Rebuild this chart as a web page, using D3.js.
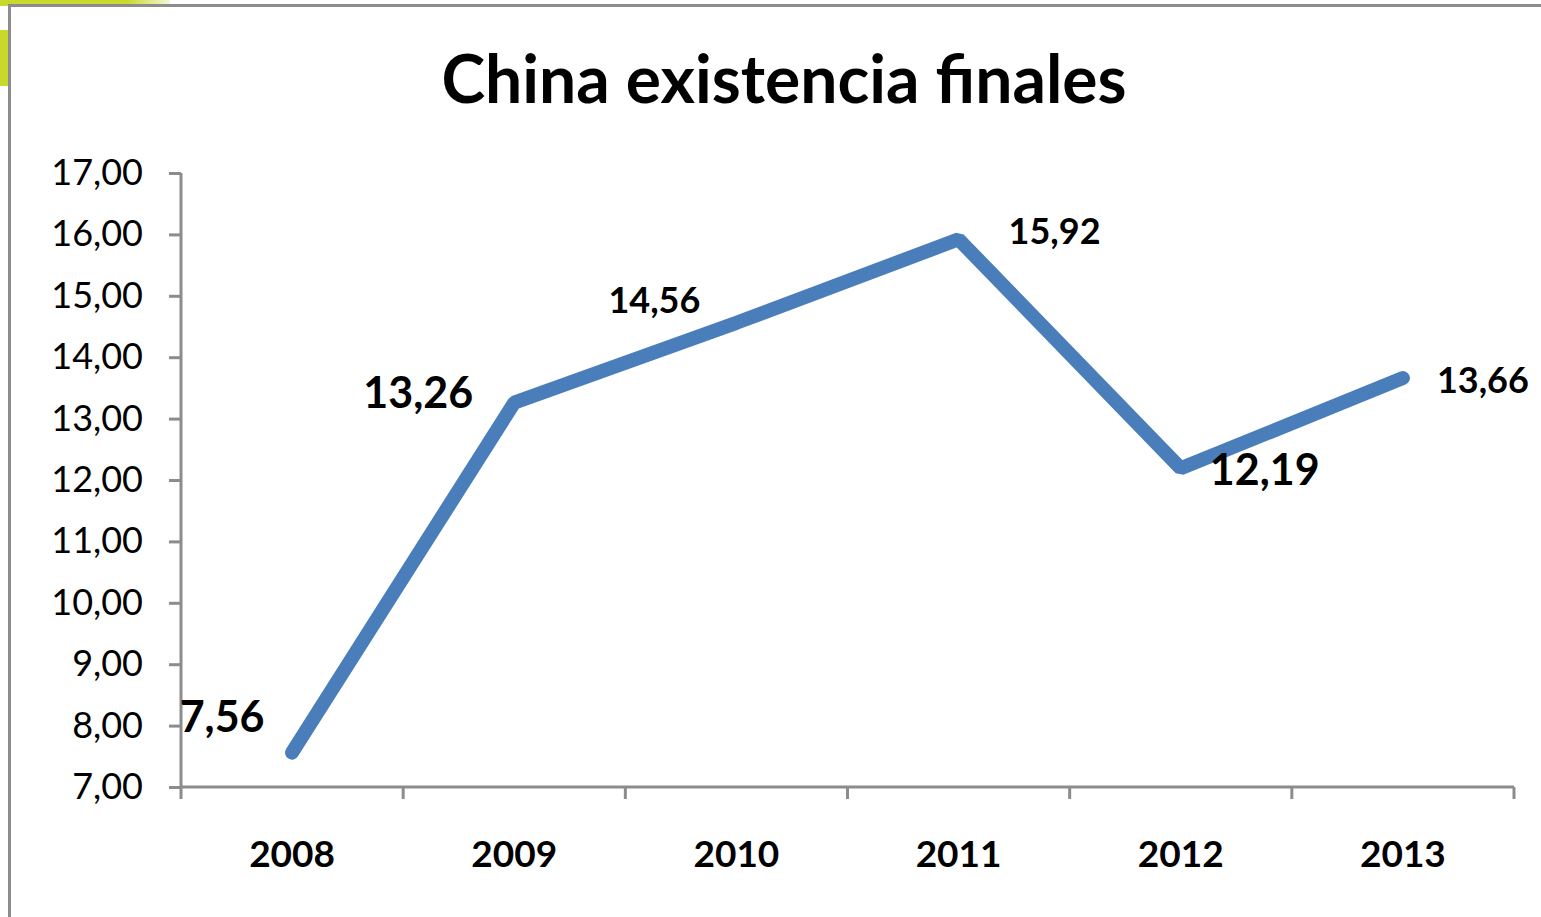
<!DOCTYPE html>
<html>
<head>
<meta charset="utf-8">
<script src="https://cdn.jsdelivr.net/npm/d3@7"></script>
<style>
  body { margin: 0; background: #fff; }
  svg { display: block; font-family: Lato, "Open Sans", sans-serif; }
</style>
</head>
<body>
<div id="chart"></div>
<script>
// chart data
var years = ["2008", "2009", "2010", "2011", "2012", "2013"];
var stocks = [7.56, 13.26, 14.56, 15.92, 12.19, 13.66];
var yTicks = [7, 8, 9, 10, 11, 12, 13, 14, 15, 16, 17];

// label placement (offset from the point) and size, per point
var labelDx = [-70, -96, -82, 96, 84, 80];
var labelDy = [-36, -10, -22, -8, 2, 2];
var labelSize = [43, 43, 36, 36, 43, 36];

var svgWidth = 1541;
var svgHeight = 917;

var margin = { top: 173, right: 27, bottom: 130, left: 181 };
var width = svgWidth - margin.left - margin.right;
var height = svgHeight - margin.top - margin.bottom;

var svg = d3.select("#chart")
  .append("svg")
  .attr("width", svgWidth)
  .attr("height", svgHeight);

// green decoration peeking out behind the frame
var grad = svg.append("defs").append("linearGradient").attr("id", "gfade");
grad.append("stop").attr("offset", "0").attr("stop-color", "#c9d92c");
grad.append("stop").attr("offset", "0.75").attr("stop-color", "#c9d92c");
grad.append("stop").attr("offset", "1").attr("stop-color", "#f4f7d8");
svg.append("rect").attr("x", 0).attr("y", 0).attr("width", 170).attr("height", 6).attr("fill", "url(#gfade)");
svg.append("rect").attr("x", 0).attr("y", 30).attr("width", 9).attr("height", 56).attr("fill", "#c9d92c");
svg.append("rect").attr("x", 8).attr("y", 5).attr("width", svgWidth).attr("height", svgHeight).attr("fill", "#fff");

// frame
svg.append("path")
  .attr("d", `M9.5,${svgHeight} V5.5 H${svgWidth}`)
  .attr("fill", "none")
  .attr("stroke", "#8c8c8c")
  .attr("stroke-width", 3);

svg.append("text")
  .attr("x", 784)
  .attr("y", 103)
  .attr("text-anchor", "middle")
  .style("font-size", "66px")
  .style("font-weight", "bold")
  .text("China existencia finales");

var chartGroup = svg.append("g")
  .attr("transform", `translate(${margin.left}, ${margin.top})`);

var xScale = d3.scaleBand()
  .domain(years)
  .range([0, width]);

var yScale = d3.scaleLinear()
  .domain([7, 17])
  .range([height, 0]);

var fmt = d => d.toFixed(2).replace(".", ",");

// y axis
var leftAxis = d3.axisLeft(yScale)
  .tickValues(yTicks)
  .tickSize(12)
  .tickPadding(26)
  .tickFormat(fmt);

var yAxis = chartGroup.append("g").call(leftAxis);
yAxis.select(".domain").attr("d", `M0,0V${height}`);

// x axis with ticks on category boundaries
var xAxis = chartGroup.append("g")
  .attr("transform", `translate(0, ${height})`);
xAxis.append("line")
  .attr("x1", 0).attr("x2", width)
  .attr("class", "xline");
xAxis.selectAll(".xt")
  .data(d3.range(years.length + 1))
  .enter()
  .append("line")
  .attr("class", "xt")
  .attr("x1", i => i * xScale.step())
  .attr("x2", i => i * xScale.step())
  .attr("y1", 0)
  .attr("y2", 12);
xAxis.selectAll("line").attr("stroke", "#8c8c8c").attr("stroke-width", 3);
xAxis.selectAll(".xlab")
  .data(years)
  .enter()
  .append("text")
  .attr("x", d => xScale(d) + xScale.bandwidth() / 2)
  .attr("y", 80)
  .attr("text-anchor", "middle")
  .style("font-size", "37px")
  .style("font-weight", "bold")
  .text(d => d);

yAxis.selectAll("path, line").attr("stroke", "#8c8c8c").attr("stroke-width", 3);
yAxis.selectAll("text")
  .attr("fill", "#000")
  .style("font-size", "36px")
  .style("font-family", "Lato, sans-serif");

// line
var line = d3.line()
  .x((d, i) => xScale(years[i]) + xScale.bandwidth() / 2)
  .y(d => yScale(d));

chartGroup.append("path")
  .datum(stocks)
  .attr("d", line)
  .attr("fill", "none")
  .attr("stroke", "#4a7ebb")
  .attr("stroke-width", 14)
  .attr("stroke-linecap", "round")
  .attr("stroke-linejoin", "bevel");

// data labels
chartGroup.selectAll(".dlab")
  .data(stocks)
  .enter()
  .append("text")
  .attr("x", (d, i) => xScale(years[i]) + xScale.bandwidth() / 2 + labelDx[i])
  .attr("y", (d, i) => yScale(d) + labelDy[i])
  .attr("dy", "0.35em")
  .attr("text-anchor", "middle")
  .style("font-size", (d, i) => labelSize[i] + "px")
  .style("font-weight", "bold")
  .text(fmt);
</script>
</body>
</html>
